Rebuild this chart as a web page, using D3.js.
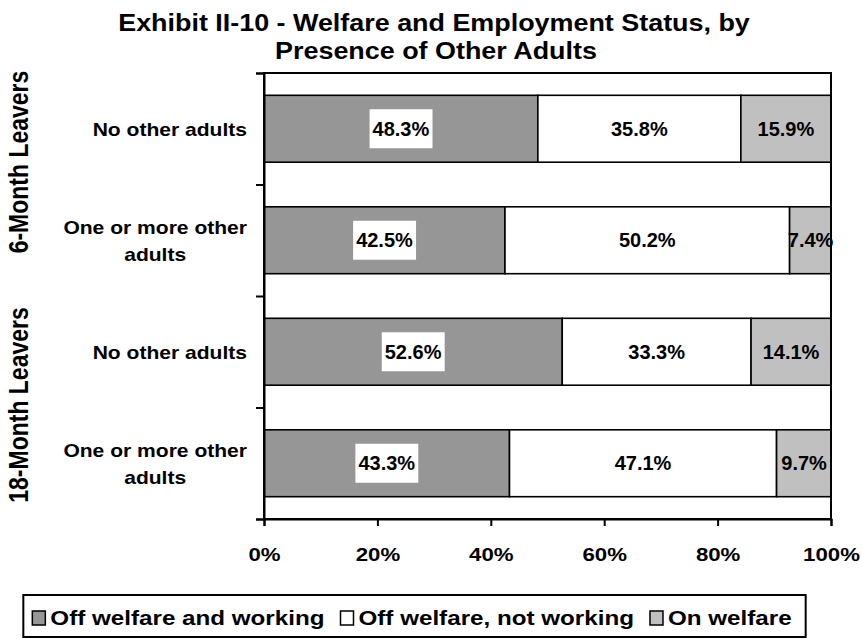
<!DOCTYPE html>
<html>
<head>
<meta charset="utf-8">
<script src="https://cdn.jsdelivr.net/npm/d3@7"></script>
<style>
  html, body { margin: 0; padding: 0; background: #fff; }
  svg { display: block; font-family: "Liberation Sans", Arial, sans-serif; font-weight: bold; }
</style>
</head>
<body>
<svg id="chart" width="862" height="639"></svg>
<script>
// Row labels, top to bottom
const categories = ["No other adults", "One or more other adults", "No other adults", "One or more other adults"];
const groups = ["6-Month Leavers", "18-Month Leavers"];
// Percent of leavers in each status
const offWorking = [48.3, 42.5, 52.6, 43.3];
const offNotWorking = [35.8, 50.2, 33.3, 47.1];
const onWelfare = [15.9, 7.4, 14.1, 9.7];
const seriesNames = ["Off welfare and working", "Off welfare, not working", "On welfare"];
const xTicks = [0, 20, 40, 60, 80, 100];

const seriesValues = [offWorking, offNotWorking, onWelfare];
const fills = ["#969696", "#ffffff", "#c0c0c0"];
const SX = 1.17; // horizontal widening applied to the lettering

const svg = d3.select("#chart");
const m = { left: 264, right: 831, top: 73, bottom: 519 };

const x = d3.scaleLinear().domain([0, 100]).range([m.left, m.right]);
const y = d3.scaleBand().domain(d3.range(categories.length)).range([m.top, m.bottom]).paddingInner(0.4).paddingOuter(0.2);
const yBand = d3.scaleBand().domain(d3.range(categories.length)).range([m.top, m.bottom]);

function label(parent, tx, ty, size, str, anchor = "middle", sx = SX) {
  return parent.append("text")
    .attr("transform", `translate(${tx},${ty}) scale(${sx},1)`)
    .attr("text-anchor", anchor).attr("font-size", size).text(str);
}

// Title
label(svg, 434, 31, 23, "Exhibit II-10 - Welfare and Employment Status, by");
label(svg, 436, 59, 23, "Presence of Other Adults");

// Stacked segments
const segs = categories.flatMap((c, i) => {
  let acc = 0;
  return seriesValues.map((vals, s) => {
    const seg = { row: i, s, x0: acc, x1: acc + vals[i], v: vals[i] };
    acc += vals[i];
    return seg;
  });
});

svg.append("g").selectAll("rect").data(segs).join("rect")
  .attr("x", d => x(d.x0))
  .attr("y", d => y(d.row))
  .attr("width", d => Math.min(x(d.x1), m.right) - x(d.x0))
  .attr("height", y.bandwidth())
  .attr("fill", d => fills[d.s])
  .attr("stroke", "#000").attr("stroke-width", 1.6);

// Frame
svg.append("rect").attr("x", m.left).attr("y", m.top)
  .attr("width", m.right - m.left).attr("height", m.bottom - m.top)
  .attr("fill", "none").attr("stroke", "#000").attr("stroke-width", 2);

// Axes
const xAxis = d3.axisBottom(x).tickValues(xTicks).tickFormat(d => d + "%").tickSize(7).tickPadding(22);
const gx = svg.append("g").attr("transform", `translate(0,${m.bottom})`).call(xAxis);
gx.select(".domain").attr("stroke-width", 2);
gx.selectAll(".tick line").attr("stroke-width", 2);
gx.selectAll(".tick text").attr("font-size", 19).attr("font-weight", "bold")
  .attr("font-family", "Liberation Sans, Arial, sans-serif").attr("fill", "#000")
  .attr("transform", `scale(${SX},1)`);

const yAxis = d3.axisLeft(d3.scaleLinear().domain([0, categories.length]).range([m.top, m.bottom]))
  .tickValues(d3.range(categories.length + 1)).tickFormat("").tickSize(8);
const gy = svg.append("g").attr("transform", `translate(${m.left},0)`).call(yAxis);
gy.select(".domain").attr("stroke-width", 2);
gy.selectAll(".tick line").attr("stroke-width", 2);

// Category labels: block right-aligned, lines centered within it
categories.forEach((c, i) => {
  const cy = yBand(i) + yBand.bandwidth() / 2;
  const lines = c === "One or more other adults" ? ["One or more other", "adults"] : [c];
  const tmp = lines.map(ln => label(svg, 0, 0, 18, ln));
  const maxW = d3.max(tmp, t => t.node().getComputedTextLength()) * SX;
  const cx = 247 - maxW / 2;
  tmp.forEach((t, k) => {
    t.attr("transform", `translate(${cx},${cy + 7 + (k - (lines.length - 1) / 2) * 27}) scale(${SX},1)`);
  });
});

// Group labels
const groupCenters = [162, 405];
groups.forEach((g, gi) => {
  svg.append("text").attr("transform", `translate(28,${groupCenters[gi]}) scale(${SX},1) rotate(-90)`)
    .attr("text-anchor", "middle").attr("font-size", 23).text(g);
});

// Value labels
const lbl = svg.append("g");
segs.forEach(d => {
  const cx = x((d.x0 + d.x1) / 2);
  const cy = y(d.row) + y.bandwidth() / 2;
  const t = lbl.append("text").attr("x", cx).attr("y", cy + 7)
    .attr("text-anchor", "middle").attr("font-size", 20).text(d.v.toFixed(1) + "%");
  if (d.s === 0) {
    const bb = t.node().getBBox();
    lbl.insert("rect", () => t.node())
      .attr("x", bb.x - 3).attr("y", cy - 19.5).attr("width", bb.width + 6).attr("height", 39)
      .attr("fill", "#fff");
  }
});

// Legend
const leg = svg.append("g");
const legBox = leg.append("rect").attr("y", 595).attr("height", 42)
  .attr("fill", "#fff").attr("stroke", "#000").attr("stroke-width", 2);
const gap = 16, legSX = 1.21;
let lx = 0;
const items = [];
seriesNames.forEach((n, i) => {
  const g = leg.append("g");
  g.append("rect").attr("x", 0).attr("y", 611).attr("width", 13).attr("height", 14)
    .attr("fill", fills[i]).attr("stroke", "#000").attr("stroke-width", 1.5);
  const t = label(g, 18, 625, 20, n, "start", legSX);
  items.push({ g, off: lx });
  lx += 18 + t.node().getComputedTextLength() * legSX + gap;
});
const total = lx - gap;
const padL = 9, padR = 14;
const startX = 414.5 - (total + padL + padR) / 2 + padL;
items.forEach(it => it.g.attr("transform", `translate(${startX + it.off},0)`));
legBox.attr("x", startX - padL).attr("width", total + padL + padR);
</script>
</body>
</html>
